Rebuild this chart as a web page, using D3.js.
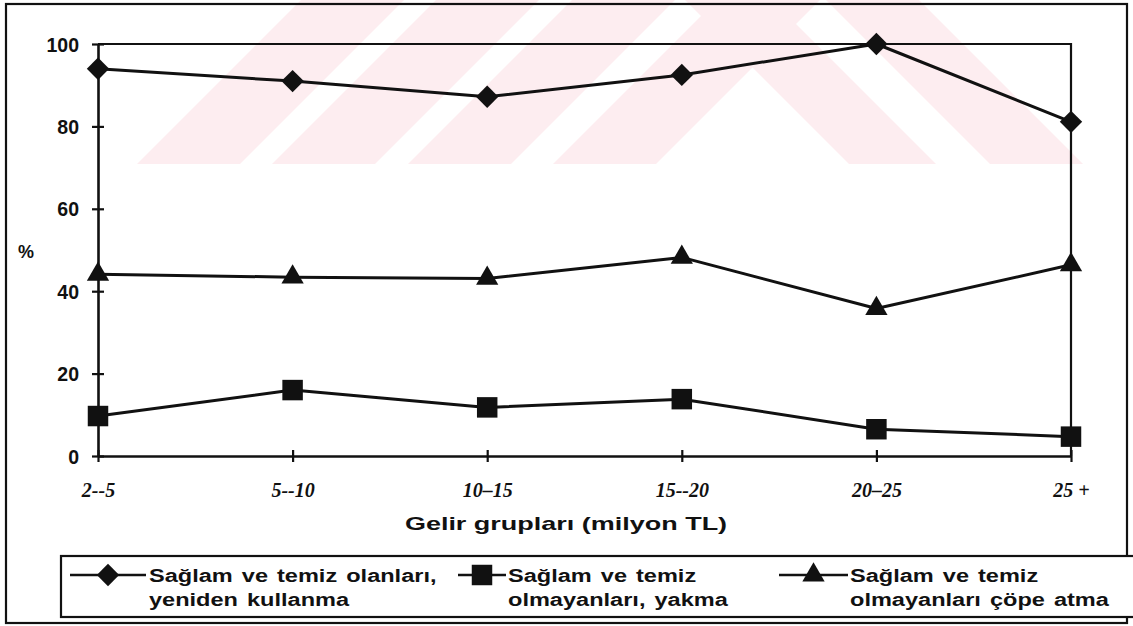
<!DOCTYPE html>
<html>
<head>
<meta charset="utf-8">
<script src="https://cdn.jsdelivr.net/npm/d3@7"></script>
<style>
  html, body { margin: 0; padding: 0; background: #fff; }
  svg { display: block; }
  .sans { font-family: "Liberation Sans", Arial, sans-serif; font-weight: bold; fill: #111; }
  .serif { font-family: "Liberation Serif", "Times New Roman", serif; font-weight: bold; font-style: italic; fill: #111; }
</style>
</head>
<body>
<svg id="chart" width="1133" height="626"></svg>
<script>
// Income groups (million TL) and the share (%) of households for each practice
const categories = ["2--5", "5--10", "10–15", "15--20", "20–25", "25 +"];
const reuseClean = [94, 91, 87.2, 92.5, 100, 81.1];
const burnDirty = [9.7, 16.0, 11.8, 13.8, 6.5, 4.7];
const binDirty = [44.1, 43.4, 43.1, 48.2, 35.8, 46.4];
const yTicks = [0, 20, 40, 60, 80, 100];
const seriesLabels = [
  ["Sağlam ve temiz olanları,", "yeniden kullanma"],
  ["Sağlam ve temiz", "olmayanları, yakma"],
  ["Sağlam ve temiz", "olmayanları çöpe atma"]
];
const xTitle = "Gelir grupları (milyon TL)";
const yTitle = "%";

const svg = d3.select("#chart");
const ink = "#111";

// Faint striped emblem behind the upper part of the chart
const wm = svg.append("g");
const bandTop = 0, bandBottom = 164, rise = bandBottom - bandTop;
const leftBands = [[137, 103], [272, 103], [408, 103], [553, 103]];
const rightBands = [[849, 87], [990, 93]];
const wmFill = "#fdedf0";
leftBands.forEach(([x0, w]) => {
  wm.append("polygon").attr("fill", wmFill)
    .attr("points", [[x0, bandBottom], [x0 + w, bandBottom], [x0 + w + rise, bandTop], [x0 + rise, bandTop]].join(" "));
});
rightBands.forEach(([x0, w]) => {
  wm.append("polygon").attr("fill", wmFill)
    .attr("points", [[x0, bandBottom], [x0 + w, bandBottom], [x0 + w - rise, bandTop], [x0 - rise, bandTop]].join(" "));
});

// Outer frame
svg.append("rect").attr("x", 6).attr("y", 4).attr("width", 1121).attr("height", 619)
  .attr("fill", "none").attr("stroke", ink).attr("stroke-width", 2.2);

const plot = { left: 98, right: 1071, top: 44, bottom: 456 };
const x = d3.scalePoint().domain(categories).range([plot.left, plot.right]);
const y = d3.scaleLinear().domain([0, 100]).range([plot.bottom, plot.top]);

// Top and right border of the plot area
svg.append("path")
  .attr("d", `M${plot.left},${plot.top}H${plot.right}V${plot.bottom}`)
  .attr("fill", "none").attr("stroke", ink).attr("stroke-width", 2.2);

// Y axis
const yAxis = svg.append("g").attr("transform", `translate(${plot.left},0)`)
  .call(d3.axisLeft(y).tickValues(yTicks).tickSize(6).tickSizeOuter(0).tickPadding(13));
yAxis.select(".domain").attr("stroke", ink).attr("stroke-width", 2.6);
yAxis.selectAll(".tick line").attr("x1", -6).attr("x2", 6).attr("stroke", ink).attr("stroke-width", 2.2);
yAxis.selectAll(".tick text").attr("class", "sans").style("font-size", "19.5px").attr("dy", "0.36em");

// X axis
const xAxis = svg.append("g").attr("transform", `translate(0,${plot.bottom})`)
  .call(d3.axisBottom(x).tickSize(6).tickSizeOuter(0).tickPadding(21));
xAxis.select(".domain").attr("stroke", ink).attr("stroke-width", 2.6);
xAxis.selectAll(".tick line").attr("y1", -6).attr("y2", 6).attr("stroke", ink).attr("stroke-width", 2.2);
xAxis.selectAll(".tick text").attr("class", "serif").style("font-size", "20px");

// Wide bold label helper: text stretched horizontally from its anchor point
function wideText(parent, str, x0, y0, size, stretch, anchor) {
  return parent.append("text").attr("class", "sans").style("font-size", size + "px")
    .attr("text-anchor", anchor || "start")
    .attr("transform", `translate(${x0},${y0}) scale(${stretch},1)`)
    .text(str);
}

// Axis titles
wideText(svg, xTitle, 566, 530, 19, 1.42, "middle");
svg.append("text").attr("class", "sans").style("font-size", "18px")
  .attr("x", 18).attr("y", 258).text(yTitle);

// Series
const series = [
  { values: reuseClean, symbol: d3.symbolSquare, size: 250, rotate: 45 },
  { values: burnDirty, symbol: d3.symbolSquare, size: 420, rotate: 0 },
  { values: binDirty, symbol: d3.symbolTriangle, size: 215, rotate: 0 }
];
const line = d3.line().x((d, i) => x(categories[i])).y(d => y(d));

series.forEach(s => {
  svg.append("path").datum(s.values)
    .attr("d", line).attr("fill", "none").attr("stroke", ink)
    .attr("stroke-width", 3).attr("stroke-linejoin", "round");
  svg.append("g").selectAll("path").data(s.values).join("path")
    .attr("d", d3.symbol(s.symbol, s.size))
    .attr("transform", (d, i) => `translate(${x(categories[i])},${y(d)}) rotate(${s.rotate})`)
    .attr("fill", ink);
});

// Legend
const legend = svg.append("g");
legend.append("rect").attr("x", 61).attr("y", 556).attr("width", 1080).attr("height", 61)
  .attr("fill", "#fff").attr("stroke", ink).attr("stroke-width", 2.2);
const legendItems = [
  { x0: 70, x1: 146, tx: 149 },
  { x0: 458, x1: 506, tx: 508 },
  { x0: 779, x1: 848, tx: 850 }
];
legendItems.forEach((it, k) => {
  const s = series[k];
  const g = legend.append("g");
  const ly = 575;
  g.append("line").attr("x1", it.x0).attr("x2", it.x1).attr("y1", ly).attr("y2", ly)
    .attr("stroke", ink).attr("stroke-width", 2.4);
  g.append("path").attr("d", d3.symbol(s.symbol, s.size))
    .attr("transform", `translate(${(it.x0 + it.x1) / 2},${ly}) rotate(${s.rotate})`)
    .attr("fill", ink);
  seriesLabels[k].forEach((t, r) => {
    wideText(g, t, it.tx, 582 + r * 24, 19, 1.24).style("word-spacing", "2px");
  });
});
</script>
</body>
</html>
